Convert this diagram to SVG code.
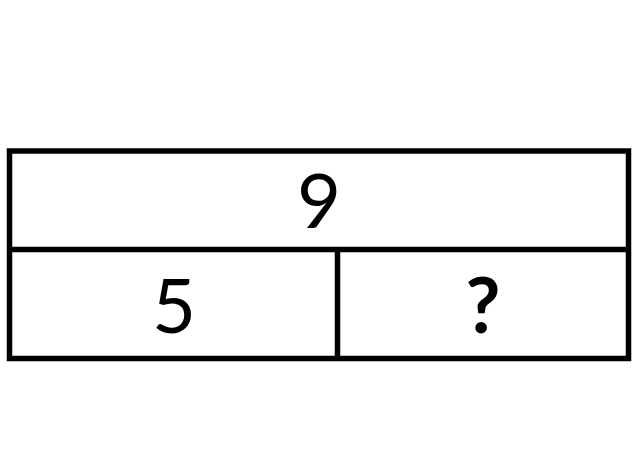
<svg xmlns="http://www.w3.org/2000/svg" width="640" height="473" viewBox="0 0 640 473">
<style>
.ln{fill:none;stroke:#000;stroke-width:5.5}
.t{font-family:Lato,"Open Sans",sans-serif;font-size:76px;fill:#000;text-anchor:middle}
.q{font-weight:700}
</style>
<rect width="640" height="473" fill="#fff"/>
<g id="whole">
<rect class="ln" x="9.5" y="151" width="619" height="207.5"/>
<text class="t" x="319" y="228">9</text>
</g>
<g id="connectors">
<line class="ln" x1="9.5" y1="249.5" x2="628.5" y2="249.5"/>
<line class="ln" x1="337.5" y1="249.5" x2="337.5" y2="358.5"/>
</g>
<g id="part1">
<text class="t" x="174" y="333">5</text>
</g>
<g id="part2">
<text class="t q" x="483" y="333">?</text>
</g>
</svg>
